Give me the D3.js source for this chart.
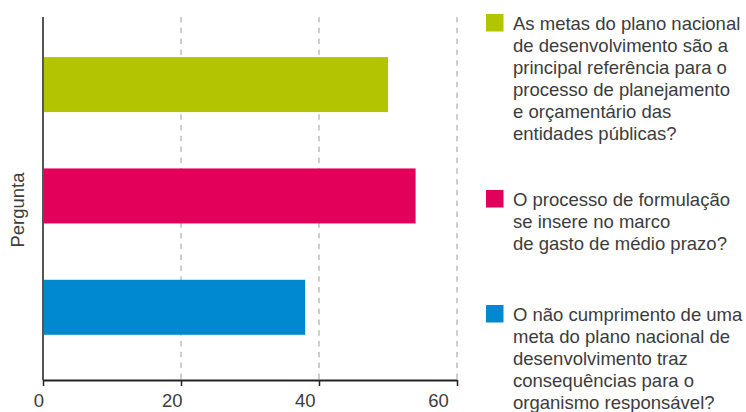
<!DOCTYPE html>
<html>
<head>
<meta charset="utf-8">
<script src="https://cdn.jsdelivr.net/npm/d3@7/dist/d3.min.js"></script>
<style>
  html, body { margin: 0; padding: 0; background: #fff; }
  svg { display: block; }
  text { font-family: "Liberation Sans", "Helvetica Neue", Arial, sans-serif; fill: #3c3c3c; }
</style>
</head>
<body>
<svg id="chart" width="746" height="412"></svg>
<script>
// Survey questions, one bar per question
const questions = [
  "As metas do plano nacional de desenvolvimento são a principal referência para o processo de planejamento e orçamentário das entidades públicas?",
  "O processo de formulação se insere no marco de gasto de médio prazo?",
  "O não cumprimento de uma meta do plano nacional de desenvolvimento traz consequências para o organismo responsável?"
];
const values = [50, 54, 38];
const barColors = ["#b3c400", "#e3005a", "#0089cf"];
const legendLines = [
  ["As metas do plano nacional", "de desenvolvimento são a", "principal referência para o", "processo de planejamento", "e orçamentário das", "entidades públicas?"],
  ["O processo de formulação", "se insere no marco", "de gasto de médio prazo?"],
  ["O não cumprimento de uma", "meta do plano nacional de", "desenvolvimento traz", "consequências para o", "organismo responsável?"]
];
const xTicks = [0, 20, 40, 60];
const yAxisTitle = "Pergunta";

const svg = d3.select("#chart");
const plot = { left: 43, right: 457, top: 17, bottom: 380 };

const x = d3.scaleLinear().domain([0, 60]).range([plot.left, plot.right]);
// tick labels sit on a slightly narrower span than the tick marks
const xLabel = d3.scaleLinear().domain([0, 60]).range([38.5, 438]);
const y = d3.scaleBand()
  .domain(questions)
  .range([plot.top, plot.bottom])
  .paddingInner(0.506)
  .paddingOuter(0.383)
  .align(0.47);

// dashed vertical gridlines
svg.append("g")
  .selectAll("line")
  .data(xTicks.filter(d => d > 0))
  .join("line")
  .attr("x1", d => x(d)).attr("x2", d => x(d))
  .attr("y1", plot.top).attr("y2", plot.bottom)
  .attr("stroke", "#b4b4b4")
  .attr("stroke-width", 1.3)
  .attr("stroke-dasharray", "5.5,5.3");

// bars
svg.append("g")
  .selectAll("rect")
  .data(questions)
  .join("rect")
  .attr("x", x(0))
  .attr("y", d => y(d))
  .attr("width", (d, i) => x(values[i]) - x(0))
  .attr("height", y.bandwidth())
  .attr("fill", (d, i) => barColors[i]);

// left axis line
svg.append("line")
  .attr("x1", x(0)).attr("x2", x(0))
  .attr("y1", plot.top).attr("y2", plot.bottom)
  .attr("stroke", "#555").attr("stroke-width", 2);

// bottom axis
const xAxis = svg.append("g")
  .attr("transform", `translate(0,${plot.bottom})`)
  .call(d3.axisBottom(x).tickValues(xTicks).tickSize(6).tickSizeOuter(0).tickFormat(d3.format("d")));
xAxis.select(".domain").attr("stroke", "#222").attr("stroke-width", 2);
xAxis.selectAll(".tick line").attr("stroke", "#222").attr("stroke-width", 1.5);
xAxis.selectAll(".tick text")
  .attr("x", d => xLabel(d) - x(d))
  .attr("y", 27)
  .attr("dy", 0)
  .style("font-size", "18.5px")
  .style("font-family", "'Liberation Sans', 'Helvetica Neue', Arial, sans-serif")
  .attr("fill", "#3c3c3c");

// y axis title
svg.append("text")
  .attr("transform", "translate(24,210) rotate(-90)")
  .attr("text-anchor", "middle")
  .style("font-size", "18.5px")
  .text(yAxisTitle);

// legend
const legendTops = [14, 190, 305];
const legend = svg.append("g");
legendLines.forEach((lines, i) => {
  const g = legend.append("g").attr("transform", `translate(486,${legendTops[i]})`);
  g.append("rect").attr("width", 17.5).attr("height", 17.5).attr("fill", barColors[i]);
  const t = g.append("text").attr("x", 27).attr("y", 15.5).style("font-size", "18.5px");
  lines.forEach((line, j) => {
    t.append("tspan").attr("x", 27).attr("dy", j === 0 ? 0 : 22).text(line);
  });
});
</script>
</body>
</html>
